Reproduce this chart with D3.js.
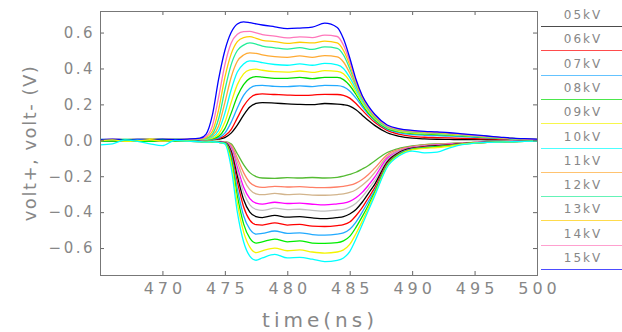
<!DOCTYPE html>
<html>
<head>
<meta charset="utf-8">
<script src="https://cdn.jsdelivr.net/npm/d3@7"></script>
<style>
  body { margin: 0; background: #fff; }
  svg text { font-family: "DejaVu Sans", sans-serif; fill: #878787; }
</style>
</head>
<body>
<svg id="chart" width="622" height="332"></svg>
<script>
// sample times (ns), shared by every trace
const time = [465, 466, 467, 468, 469, 470, 471, 472, 473,
  473.5, 474, 474.5, 475, 475.5, 476, 476.5, 477, 477.5, 478,
  479, 480, 481, 482, 483, 484,
  484.5, 485, 485.5, 486, 486.5, 487,
  488, 489, 490, 491, 492, 493, 494, 495, 496, 497, 498, 499, 500];

const xTicks = [470, 475, 480, 485, 490, 495, 500];
const yTicks = [-0.6, -0.4, -0.2, 0, 0.2, 0.4, 0.6];
const labels = ['05kV', '06kV', '07kV', '08kV', '09kV', '10kV', '11kV', '12kV', '13kV', '14kV', '15kV'];

// volt+ traces
const plus05 = [0.001, 0.002, 0.002, 0.001, 0.002, 0.002, 0.001, 0.002, 0.002,
  0.002, 0.003, 0.006, 0.015, 0.04, 0.085, 0.14, 0.185, 0.205, 0.21,
  0.207, 0.203, 0.2, 0.199, 0.205, 0.202,
  0.198, 0.19, 0.17, 0.14, 0.11, 0.083,
  0.042, 0.022, 0.012, 0.008, 0.006, 0.005, 0.004, 0.004, 0.003, 0.003, 0.002, 0.002, 0.001];
const plus06 = [0.002, 0.002, 0.003, 0.002, 0.003, 0.003, 0.002, 0.003, 0.002,
  0.003, 0.004, 0.009, 0.025, 0.06, 0.125, 0.19, 0.235, 0.255, 0.258,
  0.255, 0.252, 0.25, 0.252, 0.256, 0.255,
  0.25, 0.235, 0.205, 0.168, 0.132, 0.1,
  0.055, 0.033, 0.022, 0.017, 0.015, 0.013, 0.011, 0.009, 0.008, 0.006, 0.004, 0.003, 0.002];
const plus07 = [0.002, 0.003, 0.004, 0.003, 0.003, 0.004, 0.003, 0.003, 0.003,
  0.003, 0.006, 0.014, 0.04, 0.1, 0.18, 0.25, 0.29, 0.305, 0.306,
  0.3, 0.299, 0.303, 0.299, 0.306, 0.305,
  0.298, 0.275, 0.235, 0.188, 0.145, 0.11,
  0.062, 0.042, 0.032, 0.028, 0.026, 0.023, 0.02, 0.017, 0.014, 0.01, 0.007, 0.005, 0.003];
const plus08 = [0.003, 0.004, 0.004, 0.003, 0.005, 0.004, 0.003, 0.004, 0.003,
  0.004, 0.009, 0.022, 0.065, 0.15, 0.245, 0.31, 0.345, 0.355, 0.352,
  0.345, 0.345, 0.35, 0.344, 0.35, 0.35,
  0.338, 0.305, 0.255, 0.2, 0.152, 0.115,
  0.066, 0.047, 0.038, 0.034, 0.032, 0.029, 0.025, 0.021, 0.017, 0.012, 0.009, 0.006, 0.004];
const plus09 = [0.004, 0.004, 0.003, 0.005, 0.004, 0.005, 0.004, 0.004, 0.004,
  0.006, 0.012, 0.035, 0.1, 0.21, 0.31, 0.37, 0.392, 0.396, 0.39,
  0.382, 0.38, 0.386, 0.378, 0.388, 0.384,
  0.37, 0.33, 0.27, 0.21, 0.16, 0.12,
  0.07, 0.05, 0.042, 0.038, 0.036, 0.032, 0.027, 0.023, 0.018, 0.013, 0.009, 0.006, 0.004];
const plus10 = [0.005, 0.003, 0.006, 0.004, 0.004, 0.006, 0.003, 0.005, 0.005,
  0.007, 0.018, 0.055, 0.15, 0.28, 0.38, 0.425, 0.442, 0.44, 0.432,
  0.422, 0.418, 0.426, 0.418, 0.428, 0.42,
  0.4, 0.35, 0.285, 0.22, 0.168, 0.125,
  0.072, 0.054, 0.045, 0.041, 0.038, 0.034, 0.029, 0.024, 0.019, 0.014, 0.01, 0.007, 0.004];
const plus11 = [0.003, 0.005, 0.004, 0.004, 0.006, 0.005, 0.004, 0.005, 0.005,
  0.009, 0.025, 0.08, 0.21, 0.35, 0.44, 0.475, 0.487, 0.484, 0.476,
  0.466, 0.462, 0.47, 0.462, 0.472, 0.464,
  0.436, 0.375, 0.3, 0.23, 0.172, 0.128,
  0.075, 0.056, 0.047, 0.043, 0.04, 0.036, 0.03, 0.025, 0.02, 0.014, 0.01, 0.007, 0.004];
const plus12 = [0.005, 0.004, 0.004, 0.006, 0.005, 0.003, 0.006, 0.004, 0.006,
  0.011, 0.035, 0.12, 0.28, 0.42, 0.5, 0.53, 0.542, 0.536, 0.525,
  0.515, 0.508, 0.516, 0.506, 0.52, 0.512,
  0.475, 0.4, 0.31, 0.235, 0.175, 0.13,
  0.078, 0.058, 0.049, 0.045, 0.042, 0.037, 0.031, 0.026, 0.02, 0.015, 0.01, 0.007, 0.005];
const plus13 = [0.004, 0.003, 0.005, 0.004, 0.006, 0.004, 0.005, 0.005, 0.007,
  0.015, 0.05, 0.17, 0.35, 0.48, 0.55, 0.572, 0.577, 0.568, 0.556,
  0.55, 0.54, 0.546, 0.542, 0.552, 0.542,
  0.5, 0.42, 0.32, 0.24, 0.18, 0.135,
  0.08, 0.06, 0.051, 0.046, 0.043, 0.038, 0.032, 0.027, 0.021, 0.015, 0.011, 0.007, 0.005];
const plus14 = [0.003, 0.005, 0.004, 0.006, 0.003, 0.005, 0.004, 0.006, 0.009,
  0.022, 0.08, 0.24, 0.42, 0.54, 0.59, 0.605, 0.606, 0.598, 0.588,
  0.58, 0.57, 0.576, 0.572, 0.586, 0.578,
  0.53, 0.44, 0.33, 0.245, 0.185, 0.14,
  0.082, 0.062, 0.053, 0.048, 0.045, 0.04, 0.034, 0.028, 0.022, 0.016, 0.011, 0.008, 0.005];
const plus15 = [0.004, 0.006, 0.003, 0.005, 0.004, 0.006, 0.005, 0.007, 0.012,
  0.035, 0.14, 0.34, 0.5, 0.6, 0.648, 0.66, 0.655, 0.648, 0.642,
  0.632, 0.622, 0.625, 0.63, 0.652, 0.628,
  0.565, 0.46, 0.34, 0.25, 0.19, 0.145,
  0.085, 0.064, 0.055, 0.05, 0.047, 0.042, 0.036, 0.03, 0.024, 0.018, 0.012, 0.009, 0.006];

// volt- traces, shallowest to deepest
const minus05 = [-0.001, -0.002, -0.002, -0.003, -0.002, -0.002, -0.003, -0.002, -0.004,
  -0.005, -0.005, -0.006, -0.008, -0.02, -0.075, -0.135, -0.18, -0.202, -0.21,
  -0.212, -0.208, -0.21, -0.207, -0.21, -0.206,
  -0.2, -0.19, -0.178, -0.16, -0.14, -0.115,
  -0.068, -0.044, -0.031, -0.024, -0.02, -0.017, -0.014, -0.011, -0.009, -0.007, -0.006, -0.005, -0.004];
const minus06 = [-0.002, -0.002, -0.003, -0.003, -0.002, -0.004, -0.002, -0.003, -0.005,
  -0.006, -0.006, -0.007, -0.009, -0.026, -0.1, -0.18, -0.235, -0.256, -0.262,
  -0.256, -0.26, -0.258, -0.262, -0.264, -0.26,
  -0.256, -0.25, -0.238, -0.218, -0.19, -0.155,
  -0.08, -0.05, -0.035, -0.027, -0.022, -0.019, -0.015, -0.011, -0.009, -0.007, -0.006, -0.005, -0.004];
const minus07 = [-0.002, -0.003, -0.003, -0.002, -0.004, -0.003, -0.002, -0.003, -0.005,
  -0.006, -0.007, -0.008, -0.01, -0.032, -0.12, -0.215, -0.275, -0.298, -0.303,
  -0.296, -0.302, -0.3, -0.305, -0.306, -0.302,
  -0.298, -0.29, -0.275, -0.25, -0.22, -0.18,
  -0.09, -0.055, -0.038, -0.029, -0.024, -0.02, -0.016, -0.012, -0.009, -0.007, -0.006, -0.005, -0.004];
const minus08 = [-0.003, -0.003, -0.002, -0.005, -0.002, -0.003, -0.004, -0.002, -0.006,
  -0.007, -0.008, -0.009, -0.011, -0.04, -0.15, -0.26, -0.325, -0.35, -0.355,
  -0.345, -0.352, -0.35, -0.356, -0.36, -0.354,
  -0.35, -0.34, -0.32, -0.29, -0.25, -0.205,
  -0.1, -0.06, -0.04, -0.031, -0.026, -0.022, -0.017, -0.012, -0.01, -0.008, -0.006, -0.005, -0.004];
const minus09 = [-0.002, -0.004, -0.002, -0.004, -0.003, -0.004, -0.002, -0.004, -0.006,
  -0.008, -0.009, -0.01, -0.012, -0.05, -0.17, -0.29, -0.36, -0.385, -0.39,
  -0.378, -0.386, -0.384, -0.39, -0.394, -0.388,
  -0.385, -0.372, -0.35, -0.315, -0.27, -0.225,
  -0.11, -0.063, -0.042, -0.033, -0.028, -0.024, -0.018, -0.013, -0.01, -0.008, -0.006, -0.005, -0.004];
const minus10 = [-0.003, -0.002, -0.004, -0.003, -0.005, -0.002, -0.004, -0.003, -0.006,
  -0.008, -0.009, -0.01, -0.013, -0.06, -0.2, -0.33, -0.4, -0.425, -0.43,
  -0.418, -0.428, -0.425, -0.432, -0.436, -0.43,
  -0.425, -0.41, -0.385, -0.345, -0.295, -0.245,
  -0.12, -0.066, -0.044, -0.035, -0.03, -0.025, -0.018, -0.013, -0.01, -0.008, -0.007, -0.005, -0.004];
const minus11 = [-0.002, -0.004, -0.003, -0.005, 0.001, -0.004, -0.003, -0.005, -0.007,
  -0.009, -0.01, -0.011, -0.014, -0.07, -0.23, -0.37, -0.445, -0.47, -0.472,
  -0.46, -0.472, -0.468, -0.478, -0.48, -0.475,
  -0.47, -0.455, -0.42, -0.375, -0.32, -0.265,
  -0.128, -0.07, -0.046, -0.037, -0.032, -0.026, -0.019, -0.014, -0.011, -0.009, -0.007, -0.005, -0.004];
const minus12 = [-0.005, -0.002, -0.004, 0.002, -0.004, -0.003, -0.005, -0.002, -0.007,
  -0.01, -0.01, -0.011, -0.015, -0.085, -0.27, -0.42, -0.495, -0.522, -0.518,
  -0.505, -0.518, -0.515, -0.525, -0.528, -0.522,
  -0.515, -0.495, -0.455, -0.4, -0.34, -0.28,
  -0.135, -0.074, -0.048, -0.04, -0.034, -0.028, -0.02, -0.014, -0.011, -0.009, -0.007, -0.006, -0.004];
const minus13 = [-0.003, -0.005, 0.002, -0.004, -0.006, 0.001, -0.004, -0.003, -0.007,
  -0.01, -0.01, -0.012, -0.016, -0.1, -0.31, -0.465, -0.545, -0.572, -0.565,
  -0.55, -0.565, -0.56, -0.572, -0.574, -0.57,
  -0.56, -0.535, -0.485, -0.425, -0.36, -0.29,
  -0.14, -0.077, -0.05, -0.042, -0.036, -0.03, -0.021, -0.015, -0.012, -0.01, -0.008, -0.006, -0.005];
const minus14 = [-0.004, 0.002, -0.006, -0.003, 0.003, -0.005, -0.002, -0.004, -0.008,
  -0.01, -0.009, -0.012, -0.018, -0.12, -0.35, -0.51, -0.595, -0.625, -0.615,
  -0.6, -0.615, -0.61, -0.622, -0.628, -0.622,
  -0.61, -0.58, -0.52, -0.45, -0.375, -0.3,
  -0.145, -0.08, -0.052, -0.045, -0.04, -0.033, -0.022, -0.015, -0.012, -0.01, -0.008, -0.006, -0.005];
const minus15 = [-0.025, -0.02, 0.002, -0.006, -0.02, -0.03, 0, -0.005, -0.008,
  -0.01, -0.008, -0.012, -0.02, -0.15, -0.4, -0.565, -0.645, -0.668, -0.655,
  -0.635, -0.655, -0.652, -0.662, -0.675, -0.668,
  -0.655, -0.62, -0.55, -0.47, -0.39, -0.31,
  -0.15, -0.085, -0.06, -0.07, -0.066, -0.042, -0.024, -0.016, -0.012, -0.01, -0.008, -0.006, -0.005];

const plusSeries = [plus05, plus06, plus07, plus08, plus09, plus10, plus11, plus12, plus13, plus14, plus15];
const minusSeries = [minus05, minus06, minus07, minus08, minus09, minus10, minus11, minus12, minus13, minus14, minus15];

const plusColors = ['#000000', '#ff0000', '#22aaff', '#00dd00', '#f4f400', '#00ffff',
  '#ffaa33', '#22ee99', '#ffcc00', '#ff77bb', '#0000ff'];
const minusColors = ['#55bb33', '#ff7f66', '#d2b48c', '#ff00ff', '#c0c0c0', '#000000',
  '#ff0000', '#22aaff', '#00ee00', '#f4f400', '#00ffff'];

const svg = d3.select('#chart');
const plotLeft = 100, plotRight = 537, plotTop = 11, plotBottom = 275;

const x = d3.scaleLinear().domain([465, 500]).range([plotLeft, plotRight]);
const y = d3.scaleLinear().domain([-0.75, 0.72]).range([plotBottom, plotTop]);

svg.append('defs').append('clipPath').attr('id', 'plot')
  .append('rect').attr('x', plotLeft).attr('y', plotTop)
  .attr('width', plotRight - plotLeft).attr('height', plotBottom - plotTop);

const line = d3.line()
  .x((d, i) => x(time[i]))
  .y(d => y(d))
  .curve(d3.curveMonotoneX);

const traces = svg.append('g').attr('clip-path', 'url(#plot)')
  .attr('fill', 'none').attr('stroke-width', 1.3);

traces.selectAll('path.plus')
  .data(plusSeries)
  .enter()
  .append('path')
  .attr('class', 'plus')
  .attr('stroke', (d, i) => plusColors[i])
  .attr('d', line);

traces.selectAll('path.minus')
  .data(minusSeries)
  .enter()
  .append('path')
  .attr('class', 'minus')
  .attr('stroke', (d, i) => minusColors[i])
  .attr('d', line);

// axes: ticks point inward on all four sides
const bottomAxis = svg.append('g')
  .attr('transform', 'translate(0,' + plotBottom + ')')
  .call(d3.axisBottom(x).tickValues(xTicks).tickSizeInner(-4).tickSizeOuter(0).tickPadding(8));
bottomAxis.selectAll('text')
  .attr('font-size', 16).attr('letter-spacing', 4).attr('dx', 2);

const leftAxis = svg.append('g')
  .attr('transform', 'translate(' + plotLeft + ',0)')
  .call(d3.axisLeft(y).tickValues(yTicks).tickSizeInner(-4).tickSizeOuter(0).tickPadding(5)
    .tickFormat(d3.format('.1f')));
leftAxis.selectAll('text')
  .attr('font-size', 15).attr('letter-spacing', 2.5);

svg.append('g')
  .attr('transform', 'translate(0,' + plotTop + ')')
  .call(d3.axisTop(x).tickValues(xTicks).tickSizeInner(-4).tickSizeOuter(0).tickFormat(''));
svg.append('g')
  .attr('transform', 'translate(' + plotRight + ',0)')
  .call(d3.axisRight(y).tickValues(yTicks).tickSizeInner(-4).tickSizeOuter(0).tickFormat(''));

svg.selectAll('.domain').remove();
svg.selectAll('.tick line').attr('stroke', '#666');

svg.append('rect')
  .attr('x', plotLeft + 0.5).attr('y', plotTop + 0.5)
  .attr('width', plotRight - plotLeft).attr('height', plotBottom - plotTop)
  .attr('fill', 'none').attr('stroke', '#777');

// axis titles
svg.append('text')
  .attr('x', 320).attr('y', 327)
  .attr('text-anchor', 'middle')
  .attr('font-size', 20).attr('letter-spacing', 4)
  .text('time(ns)');

svg.append('text')
  .attr('transform', 'translate(36,143) rotate(-90)')
  .attr('text-anchor', 'middle')
  .attr('font-size', 18).attr('letter-spacing', 1.5)
  .text('volt+, volt- (V)');

// legend column on the right
const legendY = d3.scaleLinear().domain([0, labels.length - 1]).range([26, 269]);

const legend = svg.append('g')
  .selectAll('g')
  .data(labels)
  .enter()
  .append('g')
  .attr('transform', (d, i) => 'translate(0,' + Math.round(legendY(i)) + ')');

legend.append('line')
  .attr('x1', 541).attr('x2', 622)
  .attr('y1', 0.5).attr('y2', 0.5)
  .attr('stroke', (d, i) => plusColors[i])
  .attr('stroke-opacity', 0.7);

legend.append('text')
  .attr('x', 583).attr('y', -11)
  .attr('dy', '0.35em')
  .attr('text-anchor', 'middle')
  .attr('font-size', 12).attr('letter-spacing', 2)
  .text(d => d);
</script>
</body>
</html>
